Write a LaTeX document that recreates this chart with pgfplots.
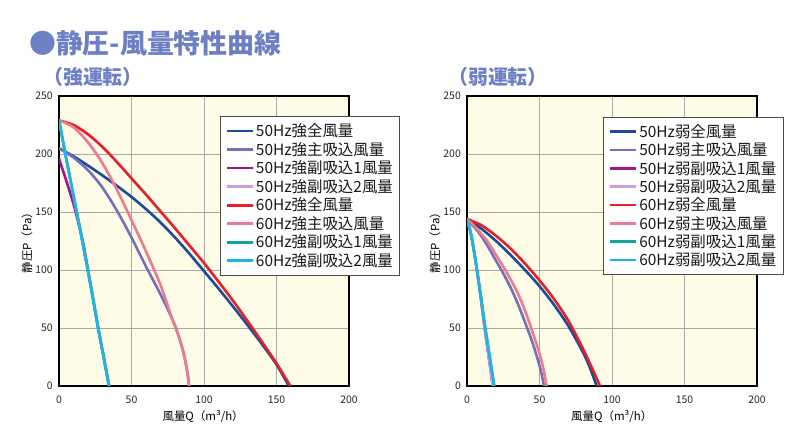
\documentclass[border=0pt]{standalone}
\usepackage{fontspec}
\setmainfont{Noto Sans CJK JP}
\usepackage{pgfplots}
\pgfplotsset{compat=1.18}
\definecolor{titleblue}{RGB}{110,128,196}
\definecolor{cream}{RGB}{254,252,231}
\definecolor{gridgray}{RGB}{168,168,168}
\definecolor{cAfull}{RGB}{27,75,155}
\definecolor{cAmain}{RGB}{118,112,186}
\definecolor{cAsub1}{RGB}{160,22,140}
\definecolor{cAsub2}{RGB}{200,160,210}
\definecolor{cBfull}{RGB}{232,30,40}
\definecolor{cBmain}{RGB}{236,122,144}
\definecolor{cBsub1}{RGB}{20,163,160}
\definecolor{cBsub2}{RGB}{28,181,229}
\pgfplotsset{
  pq/.style={
    width=290bp, height=290bp, scale only axis,
    xmin=0, xmax=200, ymin=0, ymax=250,
    xtick={0,50,100,150,200}, ytick={0,50,100,150,200,250},
    grid=major, major grid style={color=gridgray, line width=0.9bp},
    axis line style={line width=1.6bp},
    tick style={draw=none}, major tick length=0pt,
    axis background/.style={fill=cream},
    /pgf/number format/assume math mode=true,
    ticklabel style={font=\fontsize{10.5}{12}\selectfont, text=black!85},
    xticklabel style={anchor=center, inner sep=0pt, yshift=-14bp},
    yticklabel style={anchor=east, inner sep=0pt, xshift=-6bp},
    every axis plot/.append style={line width=2.6bp, smooth},
    legend cell align=left,
    legend image code/.code={\draw[#1] (0bp,0bp) -- (26bp,0bp);},
    legend style={anchor=north west, draw=black!70, line width=0.8bp, fill=white,
      font=\fontsize{15.5}{18}\selectfont, text=black!90,
      inner xsep=5bp, inner ysep=5.5bp, row sep=0pt,
      nodes={inner ysep=2bp, inner xsep=2bp}},
    xlabel={風量Q（m³/h）}, ylabel={静圧P（Pa）},
    xlabel style={anchor=center, font=\fontsize{11.5}{13}\selectfont, inner sep=0pt},
    ylabel style={anchor=center, font=\fontsize{11.5}{13}\selectfont, inner sep=0pt},
  }
}
\begin{document}
\begin{tikzpicture}[x=1bp,y=1bp]
\path[use as bounding box] (0,0) rectangle (800,444);
\node[anchor=base west, inner sep=0pt, text=titleblue, font=\fontsize{27}{30}\selectfont\bfseries] at (29,390.4) {●静圧-風量特性曲線};
\node[anchor=base west, inner sep=0pt, text=titleblue, font=\fontsize{20}{24}\selectfont\bfseries] at (43,359.7) {（強運転）};
\node[anchor=base west, inner sep=0pt, text=titleblue, font=\fontsize{20}{24}\selectfont\bfseries] at (448,359.7) {（弱運転）};

\begin{axis}[pq, at={(59bp,58bp)}, anchor=south west,
  legend style={at={(0.555,0.931)}},
  xlabel style={at={(axis description cs:0.497,-0.106)}},
  ylabel style={at={(axis description cs:-0.110,0.503)}}]
\addplot[cAfull] coordinates {(0,205) (10,198) (20,190) (30,181.5) (40,172.5) (50,163) (60,152.5) (70,141) (80,128) (90,114) (100,99) (110,84) (120,68.5) (130,52.5) (140,36) (150,18.5) (158.5,0)};
\addlegendentry{50Hz強全風量}
\addplot[cAmain] coordinates {(0,205) (10,197) (20,186) (30,171) (40,151) (50,128) (60,103) (70,79) (78,58) (82,45) (86,28) (88.5,12) (89.7,0)};
\addlegendentry{50Hz強主吸込風量}
\addplot[cAsub1] coordinates {(0,196) (5,177) (10,157) (14.3,136) (17,121) (20,100) (23.5,75) (27,50) (30.8,25) (34.5,0)};
\addlegendentry{50Hz強副吸込1風量}
\addplot[cAsub2] coordinates {(0,229) (5,196) (10,164) (15,132) (20,99) (23.5,75) (27,50) (30.8,25) (34.5,0)};
\addlegendentry{50Hz強副吸込2風量}
\addplot[cBfull] coordinates {(0,229) (10,225) (20,217) (30,206) (40,193) (50,179) (60,165) (70,150.5) (80,136) (90,121) (100,106) (110,90) (120,73.5) (130,56) (140,38) (150,19.5) (159.5,0)};
\addlegendentry{60Hz強全風量}
\addplot[cBmain] coordinates {(0,229) (10,223) (20,210) (30,192) (40,169) (50,143) (60,116) (70,87) (78,58) (82,45) (86,28) (88.5,12) (89.7,0)};
\addlegendentry{60Hz強主吸込風量}
\addplot[cBsub1] coordinates {(0,229) (5,196) (10,164) (15,132) (20,99) (23.5,75) (27,50) (30.8,25) (34.5,0)};
\addlegendentry{60Hz強副吸込1風量}
\addplot[cBsub2] coordinates {(0,229) (5,196) (10,164) (15,132) (20,99) (23.5,75) (27,50) (30.8,25) (34.5,0)};
\addlegendentry{60Hz強副吸込2風量}
\end{axis}

\begin{axis}[pq, at={(467bp,58bp)}, anchor=south west,
  legend style={at={(0.47,0.929)}},
  xlabel style={at={(axis description cs:0.499,-0.106)}},
  ylabel style={at={(axis description cs:-0.110,0.503)}}]
\addplot[cAfull] coordinates {(0,144) (10,135.5) (20,125) (30,113) (40,100) (50,86) (60,70) (70,51.5) (80,29) (85,15) (89.4,0)};
\addlegendentry{50Hz弱全風量}
\addplot[cAmain] coordinates {(0,143) (5,137) (10,129) (15,119) (20,108) (25,97) (30,85) (35,71) (40,55) (45,38) (49,22) (51.5,10) (53,0)};
\addlegendentry{50Hz弱主吸込風量}
\addplot[cAsub1] coordinates {(0,143) (2,134.5) (3.5,126) (5,115) (6.8,100) (9.5,76) (12.2,50) (15,25) (17.8,0)};
\addlegendentry{50Hz弱副吸込1風量}
\addplot[cAsub2] coordinates {(0,143) (2,134.5) (3.5,126) (5,115) (6.8,100) (9.5,76) (12.2,50) (15,25) (17.8,0)};
\addlegendentry{50Hz弱副吸込2風量}
\addplot[cBfull] coordinates {(0,144) (10,138.5) (20,129.5) (30,118.5) (40,105.5) (50,91) (60,75) (70,56) (80,32) (86,16) (91.7,0)};
\addlegendentry{60Hz弱全風量}
\addplot[cBmain] coordinates {(0,144) (5,138) (10,131) (15,123) (20,113) (25,103) (30,92) (35,80) (40,65) (45,47) (50,28) (53,13) (54.8,0)};
\addlegendentry{60Hz弱主吸込風量}
\addplot[cBsub1] coordinates {(0,143) (2,135) (3.5,126) (5,115) (6.9,100) (9.8,75) (12.6,50) (15.7,25) (18.8,0)};
\addlegendentry{60Hz弱副吸込1風量}
\addplot[cBsub2] coordinates {(0,143) (2,135) (3.5,126) (5,115) (6.9,100) (9.8,75) (12.6,50) (15.7,25) (18.8,0)};
\addlegendentry{60Hz弱副吸込2風量}
\end{axis}
\end{tikzpicture}
\end{document}
